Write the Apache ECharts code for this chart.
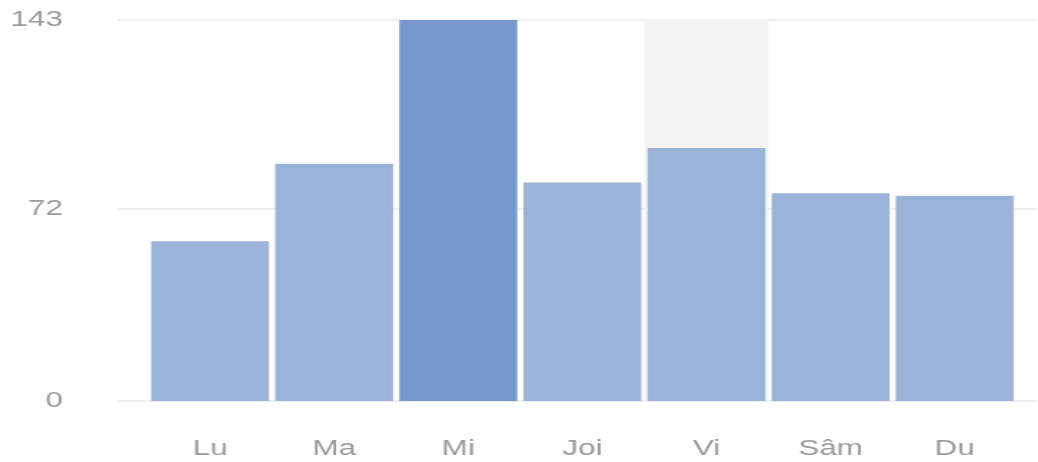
<!DOCTYPE html>
<html>
<head>
<meta charset="utf-8">
<script src="https://cdn.jsdelivr.net/npm/echarts@6/dist/echarts.min.js"></script>
<style>
html,body{margin:0;padding:0;background:#fff;overflow:hidden;}
#wrap{width:1038px;height:462px;overflow:hidden;}
#chart{width:726px;height:462px;transform:scaleX(1.43);transform-origin:0 0;}
</style>
</head>
<body>
<div id="wrap"><div id="chart"></div></div>
<script>
const categories = ['Lu', 'Ma', 'Mi', 'Joi', 'Vi', 'Sâm', 'Du'];
const values = [60, 89, 143, 82, 95, 78, 77];
const yTicks = [0, 72, 143];
const highlightDay = 'Mi';
const shadowDay = 'Vi';

const yMax = yTicks[yTicks.length - 1];
const yInterval = yTicks[1] - yTicks[0];
const labelStyle = { color: '#999999', fontSize: 22, fontFamily: 'Liberation Sans, Arial, sans-serif' };

const chart = echarts.init(document.getElementById('chart'));
chart.setOption({
  animation: false,
  grid: [
    { left: 82, right: 1, top: 20, bottom: 61 },
    { left: 103.5, right: 15, top: 20, bottom: 61 }
  ],
  xAxis: [
    { type: 'category', gridIndex: 0, data: categories, show: false },
    { type: 'category', gridIndex: 1, data: categories,
      axisLine: { show: false }, axisTick: { show: false },
      axisLabel: Object.assign({ margin: 37 }, labelStyle) },
    { type: 'category', gridIndex: 1, data: categories, show: false }
  ],
  yAxis: [
    { type: 'value', gridIndex: 0, min: 0, max: yMax, interval: yInterval,
      axisLine: { show: false }, axisTick: { show: false },
      splitLine: { lineStyle: { color: '#e9e9e9', width: 1.5 } },
      axisLabel: Object.assign({ margin: 38 }, labelStyle) },
    { type: 'value', gridIndex: 1, min: 0, max: yMax, interval: yInterval, show: false,
      splitLine: { show: false } }
  ],
  series: [
    { type: 'bar', xAxisIndex: 2, yAxisIndex: 1, barCategoryGap: '0%', silent: true, z: 1,
      itemStyle: { color: '#f3f3f3' },
      data: categories.map(c => c === shadowDay ? yMax : null) },
    { type: 'bar', xAxisIndex: 1, yAxisIndex: 1, barCategoryGap: '5%', z: 2,
      data: values.map((v, i) => ({
        value: v,
        itemStyle: { color: categories[i] === highlightDay ? '#7697ca' : '#9cb3d8' }
      })) }
  ]
});
</script>
</body>
</html>
